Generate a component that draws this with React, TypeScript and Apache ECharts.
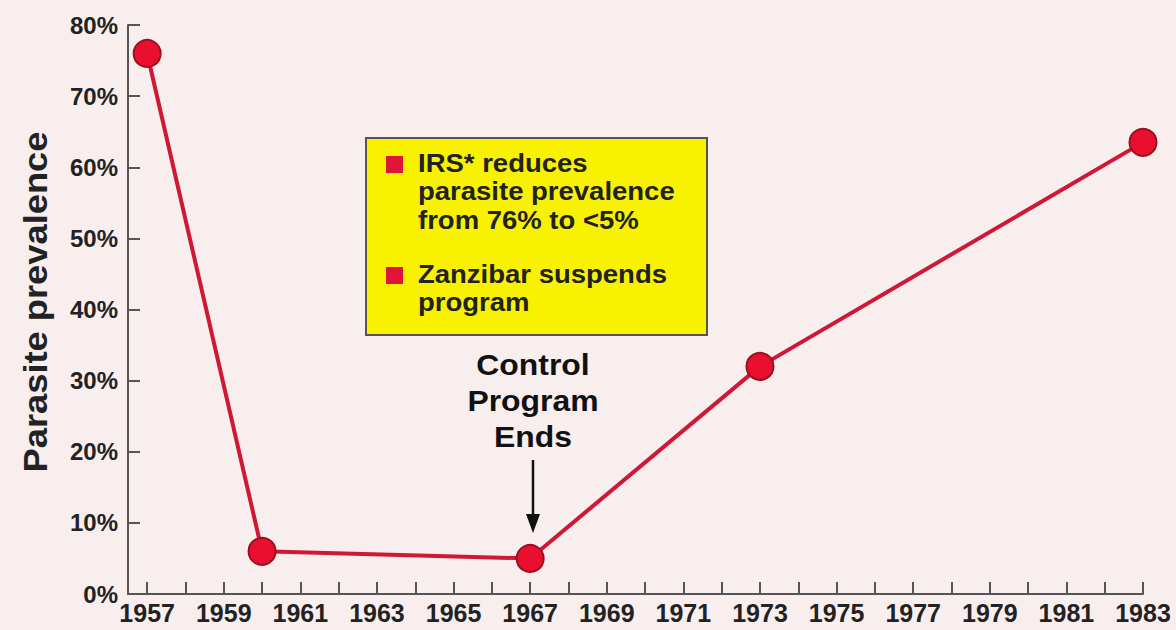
import React, { useEffect, useRef } from "react";
import * as echarts from "echarts";

const years = [1957, 1960, 1967, 1973, 1983];
const prevalence = [76, 6, 5, 32, 63.5];
const tickYears = [1957, 1958, 1959, 1960, 1961, 1962, 1963, 1964, 1965, 1966, 1967, 1968, 1969, 1970, 1971, 1972, 1973, 1974, 1975, 1976, 1977, 1978, 1979, 1980, 1981, 1982, 1983];
const labelYears = [1957, 1959, 1961, 1963, 1965, 1967, 1969, 1971, 1973, 1975, 1977, 1979, 1981, 1983];
const yTitle = "Parasite prevalence";
const boxLines1 = ["IRS* reduces", "parasite prevalence", "from 76% to <5%"];
const boxLines2 = ["Zanzibar suspends", "program"];
const annotationLines = ["Control", "Program", "Ends"];

const FONT = "'Liberation Sans', Arial, Helvetica, sans-serif";

export default function App() {
  const ref = useRef<HTMLDivElement>(null);
  useEffect(() => {
    if (!ref.current) return;
    const chart = echarts.init(ref.current, null, { renderer: "svg" });
    chart.setOption({
      animation: false,
      backgroundColor: "#f8eeee",
      grid: { left: 128, right: 33, top: 25, bottom: 36 },
      xAxis: {
        type: "value",
        min: 1956.5,
        max: 1983,
        splitLine: { show: false },
        axisLine: { show: true, lineStyle: { color: "#555", width: 2 } },
        axisTick: {
          show: true,
          inside: true,
          length: 12,
          customValues: tickYears,
          lineStyle: { color: "#555", width: 2 },
        },
        axisLabel: {
          customValues: labelYears,
          formatter: (v: number) => String(v),
          fontFamily: FONT,
          fontWeight: "bold",
          fontSize: 25,
          color: "#222",
          margin: 6,
        },
      },
      yAxis: {
        type: "value",
        min: 0,
        max: 80,
        interval: 10,
        splitLine: { show: false },
        axisLine: { show: true, lineStyle: { color: "#555", width: 2 } },
        axisTick: { show: true, inside: true, length: 12, lineStyle: { color: "#555", width: 2 } },
        axisLabel: {
          formatter: "{value}%",
          fontFamily: FONT,
          fontWeight: "bold",
          fontSize: 24,
          color: "#222",
          margin: 10,
        },
      },
      series: [
        {
          type: "line",
          data: years.map((y, i) => [y, prevalence[i]]),
          symbol: "circle",
          symbolSize: 27,
          lineStyle: { color: "#cf1836", width: 4 },
          itemStyle: { color: "#e8102e", borderColor: "#9a1020", borderWidth: 2 },
        },
      ],
      graphic: [
        {
          type: "text",
          x: 36,
          y: 302,
          rotation: Math.PI / 2,
          scaleX: 1.1,
          z: 11,
          style: {
            text: yTitle,
            font: `bold 33px ${FONT}`,
            fill: "#222",
            align: "center",
            verticalAlign: "middle",
          },
        },
        {
          type: "rect",
          shape: { x: 366, y: 138, width: 341, height: 197 },
          style: { fill: "#f8f200", stroke: "#555", lineWidth: 2 },
          z: 10,
        },
        { type: "rect", shape: { x: 386, y: 156, width: 17, height: 17 }, style: { fill: "#e0153a" }, z: 11 },
        { type: "rect", shape: { x: 386, y: 267, width: 17, height: 17 }, style: { fill: "#e0153a" }, z: 11 },
        {
          type: "text",
          x: 418,
          y: 149,
          scaleX: 1.1,
          z: 11,
          style: {
            text: boxLines1.join("\n"),
            font: `bold 25px ${FONT}`,
            fill: "#222",
            lineHeight: 28.5,
            verticalAlign: "top",
          },
        },
        {
          type: "text",
          x: 418,
          y: 260,
          scaleX: 1.1,
          z: 11,
          style: {
            text: boxLines2.join("\n"),
            font: `bold 25px ${FONT}`,
            fill: "#222",
            lineHeight: 28.5,
            verticalAlign: "top",
          },
        },
        {
          type: "text",
          x: 533,
          y: 347,
          scaleX: 1.1,
          z: 11,
          style: {
            text: annotationLines.join("\n"),
            font: `bold 29px ${FONT}`,
            fill: "#111",
            lineHeight: 36,
            align: "center",
            verticalAlign: "top",
          },
        },
        {
          type: "line",
          shape: { x1: 533, y1: 460, x2: 533, y2: 518 },
          style: { stroke: "#111", lineWidth: 2.5 },
          z: 11,
        },
        {
          type: "polygon",
          shape: { points: [[526, 514], [540, 514], [533, 533]] },
          style: { fill: "#111" },
          z: 11,
        },
      ],
    });
    return () => chart.dispose();
  }, []);
  return <div ref={ref} style={{ width: 1176, height: 630, position: "absolute", left: 0, top: 0 }} />;
}
